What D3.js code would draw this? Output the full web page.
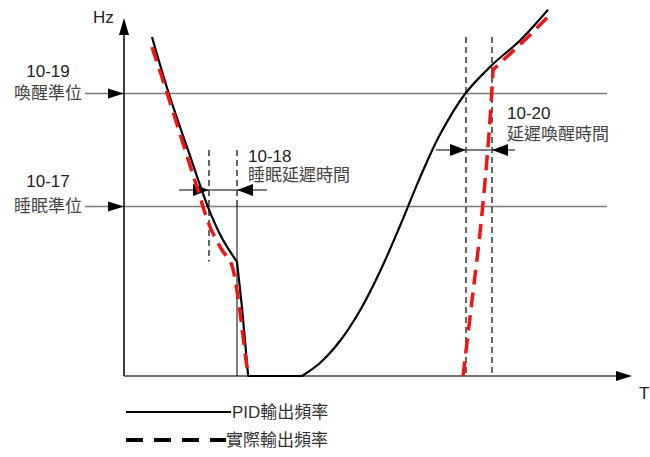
<!DOCTYPE html>
<html><head><meta charset="utf-8">
<script src="https://cdn.jsdelivr.net/npm/d3@7"></script>
<style>
html,body{margin:0;padding:0;background:#fff;}
text{font-family:"Liberation Sans",Arial,"Noto Sans CJK TC",sans-serif;}
</style></head>
<body>
<svg id="c" width="650" height="457"></svg>
<script>
// ---- data (t in arbitrary time units, Hz) ----
const wakeLevel = 50;          // 10-19
const sleepLevel = 30;         // 10-17
const sleepDelayT = [15.06, 20.02];   // 10-18
const wakeDelayT = [60.59, 65.2];     // 10-20
const sleepArrowHz = 32.9;
const wakeArrowHz = 40.0;
const sleepGuideHz = [40.0, 20.2];
const wakeGuideTopHz = 60.0;

// PID output (solid black)
const pidFall = [[4.96,60.0],[7.97,49.9],[11.34,40.0],[14.88,29.9],[17.36,24.4],[20.02,20.2]];
const pidDrop = [[20.02,20.2],[20.9,12.2],[22.0,0],[31.54,0]];
const pidRise = [[31.54,0],[34.72,2.3],[38.26,6.19],[41.81,11.59],[45.35,18.49],[48.89,26.54],[52.44,35.11],[55.98,42.72],[60.41,49.9],[65.2,55.04],[70.16,59.38],[75.12,64.82]];
// actual output (red dashed)
const actFall = [[4.96,58.2],[7.62,50.1],[10.45,41.2],[12.93,33.4],[15.24,26.4],[17.36,22.3],[18.96,20.0],[19.84,16.1],[20.73,9.91],[21.79,1.59],[22.15,0]];
const actRise = [[60.06,0],[61.66,13.4],[63.07,25.3],[64.14,36.5],[64.84,45.3],[65.38,54.2]];
const actTop = [[65.38,54.2],[68.39,57.0],[71.58,60.0],[74.94,63.4]];

const axisLabels = {y:"Hz", x:"T"};
const levelLabels = [["10-19","喚醒準位"],["10-17","睡眠準位"]];
const delayLabels = [["10-18","睡眠延遲時間"],["10-20","延遲喚醒時間"]];
const legendLabels = ["PID輸出頻率","實際輸出頻率"];

// ---- scales ----
const x = d3.scaleLinear().domain([0,90]).range([124,632]);
const y = d3.scaleLinear().domain([0,63]).range([376,20]);
const svg = d3.select("#c");
const RED = "#f01414";

function tri(tipX, tipY, dir, len, half, fill){
  let pts;
  if(dir==="r") pts=[[tipX,tipY],[tipX-len,tipY-half],[tipX-len,tipY+half]];
  else if(dir==="l") pts=[[tipX,tipY],[tipX+len,tipY-half],[tipX+len,tipY+half]];
  else pts=[[tipX,tipY],[tipX-half,tipY+len],[tipX+half,tipY+len]];
  svg.append("path").attr("d","M"+pts.map(p=>p.join(",")).join("L")+"Z").attr("fill",fill||"#000");
}

// level lines
[wakeLevel, sleepLevel].forEach((lv,i)=>{
  svg.append("line").attr("x1",85).attr("x2",607).attr("y1",y(lv)).attr("y2",y(lv))
    .attr("stroke","#7a7a7a").attr("stroke-width",1.5);
  tri(x(0), y(lv), "r", 16, 5);
  const off = i===0 ? 0 : -3;
  svg.append("text").attr("x",48).attr("y",y(lv)-16+off).attr("text-anchor","middle")
    .attr("font-size",17).attr("fill","#222").text(levelLabels[i][0]);
  svg.append("text").attr("x",48).attr("y",y(lv)+6).attr("text-anchor","middle")
    .attr("font-size",17).attr("fill","#444").text(levelLabels[i][1]);
});

// axes
svg.append("line").attr("x1",x(0)).attr("x2",x(0)).attr("y1",y(0)).attr("y2",34)
  .attr("stroke","#000").attr("stroke-width",1.5);
tri(x(0),18,"u",17,5);
svg.append("line").attr("x1",x(0)).attr("x2",618).attr("y1",y(0)).attr("y2",y(0))
  .attr("stroke","#444").attr("stroke-width",1.5);
tri(632,y(0),"r",16,5);
svg.append("text").attr("x",93).attr("y",23).attr("font-size",17).attr("fill","#222").text(axisLabels.y);
svg.append("text").attr("x",639).attr("y",399).attr("font-size",17).attr("fill","#222").text(axisLabels.x);

// guide lines (dashed)
const dash = "6,4";
svg.append("line").attr("x1",x(sleepDelayT[0])).attr("x2",x(sleepDelayT[0]))
  .attr("y1",y(sleepGuideHz[0])).attr("y2",y(sleepGuideHz[1]))
  .attr("stroke","#000").attr("stroke-width",1.2).attr("stroke-dasharray",dash);
svg.append("line").attr("x1",x(sleepDelayT[1])).attr("x2",x(sleepDelayT[1]))
  .attr("y1",y(sleepGuideHz[0])).attr("y2",y(sleepLevel))
  .attr("stroke","#000").attr("stroke-width",1.2).attr("stroke-dasharray",dash);
svg.append("line").attr("x1",x(sleepDelayT[1])).attr("x2",x(sleepDelayT[1]))
  .attr("y1",y(sleepLevel)).attr("y2",y(0))
  .attr("stroke","#000").attr("stroke-width",1);
wakeDelayT.forEach(t=>{
  svg.append("line").attr("x1",x(t)).attr("x2",x(t)).attr("y1",y(wakeGuideTopHz)).attr("y2",y(0))
    .attr("stroke","#000").attr("stroke-width",1.2).attr("stroke-dasharray",dash);
});

// delay arrows
function delayArrow(t, hz, ext){
  svg.append("line").attr("x1",x(t[0])-30).attr("x2",x(t[1])+ext).attr("y1",y(hz)).attr("y2",y(hz))
    .attr("stroke","#555").attr("stroke-width",1.5);
  tri(x(t[0]),y(hz),"r",16,6);
  tri(x(t[1]),y(hz),"l",16,6);
}
delayArrow(sleepDelayT, sleepArrowHz, 30);
delayArrow(wakeDelayT, wakeArrowHz, 23);
svg.append("text").attr("x",248).attr("y",162).attr("font-size",17).attr("fill","#222").text(delayLabels[0][0]);
svg.append("text").attr("x",248).attr("y",181).attr("font-size",17).attr("fill","#444").text(delayLabels[0][1]);
svg.append("text").attr("x",507).attr("y",119).attr("font-size",17).attr("fill","#222").text(delayLabels[1][0]);
svg.append("text").attr("x",507).attr("y",140).attr("font-size",17).attr("fill","#444").text(delayLabels[1][1]);

// curves
const smooth = d3.line().x(d=>x(d[0])).y(d=>y(d[1])).curve(d3.curveCatmullRom.alpha(0.5));
const straight = d3.line().x(d=>x(d[0])).y(d=>y(d[1]));
const cont = s => "L" + s.slice(1);

svg.append("path").attr("d", smooth(pidFall) + cont(straight(pidDrop)) + cont(smooth(pidRise)))
  .attr("fill","none").attr("stroke","#000").attr("stroke-width",2.2).attr("stroke-linejoin","round");

svg.append("path").attr("d", smooth(actFall)).attr("fill","none").attr("stroke",RED)
  .attr("stroke-width",3.5).attr("stroke-dasharray","15,8");
svg.append("path").attr("d", smooth(actRise) + cont(straight(actTop))).attr("fill","none").attr("stroke",RED)
  .attr("stroke-width",3.5).attr("stroke-dasharray","15,8");

// legend
svg.append("line").attr("x1",126).attr("x2",231).attr("y1",412).attr("y2",412)
  .attr("stroke","#000").attr("stroke-width",2);
svg.append("text").attr("x",232).attr("y",418).attr("font-size",17).attr("fill","#333").text(legendLabels[0]);
svg.append("line").attr("x1",126).attr("x2",226).attr("y1",440).attr("y2",440)
  .attr("stroke","#000").attr("stroke-width",4).attr("stroke-dasharray","17,11");
svg.append("text").attr("x",226).attr("y",446).attr("font-size",17).attr("fill","#333").text(legendLabels[1]);
</script>
</body></html>
